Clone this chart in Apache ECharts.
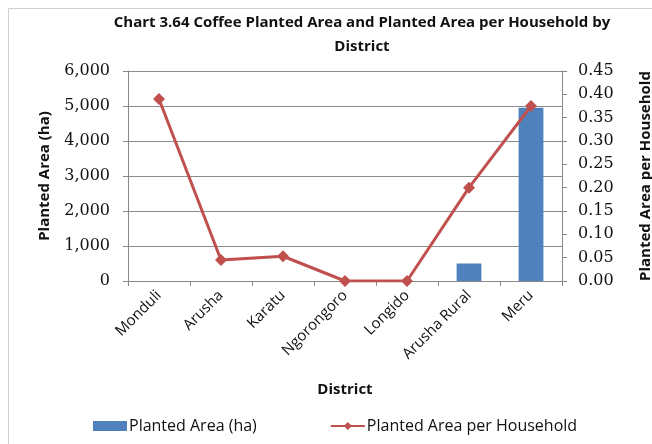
<!DOCTYPE html>
<html><head><meta charset="utf-8">
<script src="https://cdn.jsdelivr.net/npm/echarts@6/dist/echarts.min.js"></script>
<style>html,body{margin:0;padding:0;background:#fff}#c{width:652px;height:444px}</style>
</head><body><div id="c"></div>
<script>
const districts = ["Monduli","Arusha","Karatu","Ngorongoro","Longido","Arusha Rural","Meru"];
const plantedArea = [0, 0, 0, 0, 0, 500, 4950];
const areaPerHousehold = [0.39, 0.045, 0.053, 0, 0, 0.2, 0.375];
const leftTicks = {min:0, max:6000, interval:1000};
const rightTicks = {min:0, max:0.45, interval:0.05};

const chart = echarts.init(document.getElementById('c'));
const FONT = 'Open Sans';
const SERIF = 'DejaVu Serif';
chart.setOption({
  animation:false,
  graphic:[{type:'rect',shape:{x:8.5,y:8.5,width:660,height:460},style:{fill:'none',stroke:'#d0d0d0',lineWidth:1}}],
  title:{text:'Chart 3.64 Coffee Planted Area and Planted Area per Household by\nDistrict',left:357,textAlign:'center',top:6,
    textStyle:{fontFamily:FONT,fontWeight:'bold',fontSize:15,color:'#111',lineHeight:24}},
  legend:{bottom:5,left:88,itemGap:73,itemWidth:34,itemHeight:10,textStyle:{fontFamily:FONT,fontSize:16,color:'#111',padding:[0,0,0,-3]},
    data:[{name:'Planted Area (ha)',icon:'rect'},{name:'Planted Area per Household'}]},
  grid:{left:128,right:90,top:71,bottom:163,outerBoundsMode:'none',containLabel:false},
  xAxis:{type:'category',data:districts,name:'District',nameLocation:'middle',nameGap:101,
    nameTextStyle:{fontFamily:FONT,fontWeight:'bold',fontSize:15,color:'#111'},
    axisLine:{lineStyle:{color:'#888'}},axisTick:{show:true,length:5,lineStyle:{color:'#888'}},
    axisLabel:{rotate:45,fontFamily:FONT,fontSize:15,color:'#111',margin:12}},
  yAxis:[{type:'value',min:leftTicks.min,max:leftTicks.max,interval:leftTicks.interval,
      name:'Planted Area (ha)',nameLocation:'middle',nameGap:76,nameRotate:90,
      nameTextStyle:{fontFamily:FONT,fontWeight:'bold',fontSize:15,color:'#111'},
      axisLine:{show:true,lineStyle:{color:'#888'}},axisTick:{show:true,inside:false,length:5,lineStyle:{color:'#888'}},
      splitLine:{lineStyle:{color:'#8c8c8c'}},
      axisLabel:{fontFamily:SERIF,fontSize:16,color:'#111',margin:18,
        formatter:v=>v.toLocaleString('en-US')}},
    {type:'value',min:rightTicks.min,max:rightTicks.max,interval:rightTicks.interval,
      name:'Planted Area per Household',nameLocation:'middle',nameGap:76,nameRotate:90,
      nameTextStyle:{fontFamily:FONT,fontWeight:'bold',fontSize:15,color:'#111'},
      axisLine:{show:true,lineStyle:{color:'#888'}},axisTick:{show:true,length:5,lineStyle:{color:'#888'}},
      splitLine:{show:false},
      axisLabel:{fontFamily:SERIF,fontSize:16,color:'#111',margin:16,formatter:v=>v.toFixed(2)}}],
  series:[{name:'Planted Area (ha)',type:'bar',data:plantedArea,barWidth:'40%',itemStyle:{color:'#4F81BD'}},
    {name:'Planted Area per Household',type:'line',yAxisIndex:1,data:areaPerHousehold,
      symbol:'diamond',symbolSize:12,lineStyle:{color:'#C0504D',width:3},itemStyle:{color:'#C0504D'}}]
});
</script></body></html>
